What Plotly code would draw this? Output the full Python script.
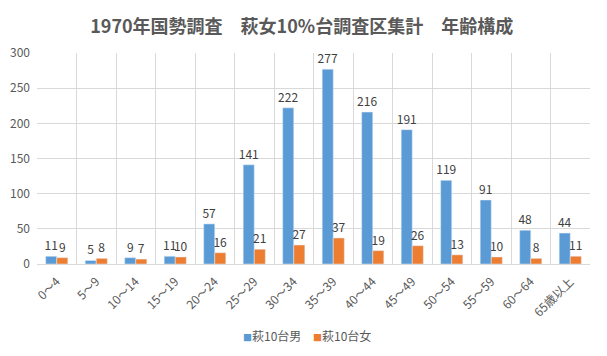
import plotly.graph_objects as go

categories = ["0～4", "5～9", "10～14", "15～19", "20～24", "25～29", "30～34",
              "35～39", "40～44", "45～49", "50～54", "55～59", "60～64", "65歳以上"]
male = [11, 5, 9, 11, 57, 141, 222, 277, 216, 191, 119, 91, 48, 44]
female = [9, 8, 7, 10, 16, 21, 27, 37, 19, 26, 13, 10, 8, 11]
series_names = ["萩10台男", "萩10台女"]
series_colors = ["#5B9BD5", "#ED7D31"]
y_ticks = [0, 50, 100, 150, 200, 250, 300]

FONT = "Noto Sans CJK JP"

fig = go.Figure()
for name, vals, col in zip(series_names, [male, female], series_colors):
    fig.add_trace(go.Bar(name=name, x=categories, y=vals, marker_color=col,
                         text=vals, textposition="outside", cliponaxis=False,
                         textfont=dict(size=12, color="#404040", family=FONT),
                         constraintext="none", showlegend=False))

# Excel-style legend: small colored square immediately followed by the name
legend_x = [0.369, 0.4955]
for name, col, lx in zip(series_names, series_colors, legend_x):
    fig.add_annotation(
        text=f"<span style='color:{col};font-size:9px'>■</span>{name}",
        x=lx, y=-0.341, xref="paper", yref="paper", xanchor="left", yanchor="middle",
        showarrow=False, font=dict(size=12, color="#595959", family=FONT))

fig.update_layout(
    width=607, height=356,
    margin=dict(l=37, r=17, t=53, b=92, autoexpand=False),
    paper_bgcolor="white", plot_bgcolor="white",
    barmode="group", bargap=0.44, bargroupgap=0,
    font=dict(family=FONT, size=12, color="#595959"),
    title=dict(text="<b>1970年国勢調査　萩女10%台調査区集計　年齢構成</b>",
               x=0.497, xref="container", xanchor="center",
               y=0.925, yref="container", yanchor="middle",
               font=dict(size=18, color="#595959", family=FONT)),
    showlegend=False,
)
fig.update_xaxes(type="category", tickson="boundaries", showgrid=True,
                 gridcolor="#D9D9D9", showline=True, linecolor="#D9D9D9",
                 ticks="", tickangle=-45, automargin=False, ticklabelstandoff=5,
                 tickfont=dict(size=12, color="#595959"))
fig.update_yaxes(range=[0, 300], tickvals=y_ticks, showgrid=True, gridcolor="#D9D9D9",
                 zeroline=False, showline=False, ticks="", automargin=False,
                 ticklabelstandoff=6, tickfont=dict(size=12, color="#595959"))

fig.write_html("out.html", config={"displayModeBar": False},
               post_script="document.body.style.margin='0';document.body.style.overflow='hidden';")
